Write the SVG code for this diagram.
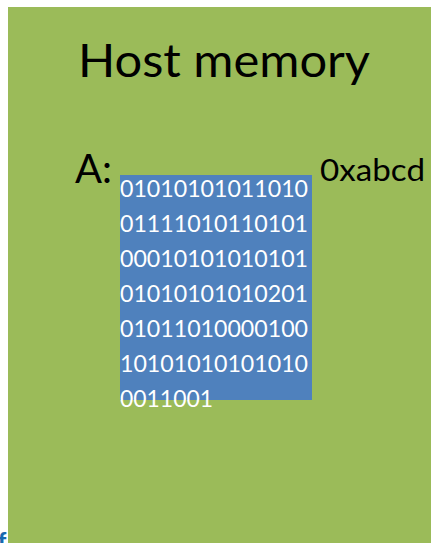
<svg xmlns="http://www.w3.org/2000/svg" width="431" height="543" viewBox="0 0 431 543">
<style>
.t{font-family:Lato,"Open Sans","Liberation Sans",sans-serif;fill:#000}
.b{font-family:Lato,"Open Sans","Liberation Sans",sans-serif;fill:#fff;font-size:22.5px}
</style>
<rect width="431" height="543" fill="#fff"/>
<g id="host">
<rect x="8" y="7" width="423" height="536" fill="#9BBB59"/>
<text class="t" x="78" y="77" font-size="46" textLength="292" lengthAdjust="spacingAndGlyphs">Host memory</text>
</g>
<g id="label-a">
<text class="t" x="75" y="183" font-size="41" textLength="37" lengthAdjust="spacingAndGlyphs">A:</text>
</g>
<g id="addr">
<text class="t" x="320" y="181" font-size="31" textLength="105" lengthAdjust="spacingAndGlyphs">0xabcd</text>
</g>
<g id="data">
<rect x="120" y="175" width="192" height="225" fill="#4F81BD"/>
<text class="b" x="120" y="197" textLength="188" lengthAdjust="spacingAndGlyphs">01010101011010</text>
<text class="b" x="120" y="232" textLength="188" lengthAdjust="spacingAndGlyphs">01111010110101</text>
<text class="b" x="120" y="267" textLength="188" lengthAdjust="spacingAndGlyphs">00010101010101</text>
<text class="b" x="120" y="302" textLength="188" lengthAdjust="spacingAndGlyphs">01010101010201</text>
<text class="b" x="120" y="337" textLength="188" lengthAdjust="spacingAndGlyphs">01011010000100</text>
<text class="b" x="120" y="372" textLength="188" lengthAdjust="spacingAndGlyphs">10101010101010</text>
<text class="b" x="120" y="407" textLength="93" lengthAdjust="spacingAndGlyphs">0011001</text>
</g>
<text x="-2" y="549" font-family="Lato,'Liberation Sans',sans-serif" font-weight="900" font-size="23" fill="#1769b0">f</text>
</svg>
